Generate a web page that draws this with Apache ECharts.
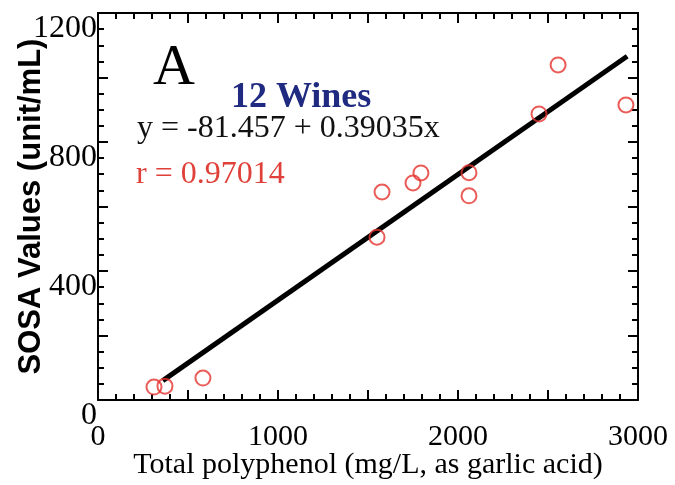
<!DOCTYPE html>
<html>
<head>
<meta charset="utf-8">
<script src="https://cdn.jsdelivr.net/npm/echarts@6/dist/echarts.min.js"></script>
<style>
  html, body { margin: 0; padding: 0; background: #fff; }
  #chart { width: 675px; height: 485px; }
</style>
</head>
<body>
<div id="chart"></div>
<script>
// wine samples
var polyphenol = [311, 372, 583, 1550, 1578, 1750, 1794, 2061, 2061, 2450, 2556, 2933];
var sosa = [40, 43, 68, 505, 645, 673, 704, 705, 633, 887, 1039, 915];
// fitted line ends (y = -81.457 + 0.39035x)
var fitX = [360, 2940];
var fitY = [60, 1066];

var xTicks = [0, 1000, 2000, 3000];
var yTicks = [0, 400, 800, 1200];

var serif = '"Liberation Serif", "Times New Roman", serif';

var points = [];
for (var i = 0; i < polyphenol.length; i++) {
  points.push([polyphenol[i], sosa[i]]);
}
var fitLine = [[fitX[0], fitY[0]], [fitX[1], fitY[1]]];

var frameLine = { show: true, onZero: false, lineStyle: { color: '#000', width: 2 } };

function xAxisDef(pos, showLabels) {
  return {
    type: 'value', position: pos, min: 0, max: 3000, interval: 500,
    axisLine: frameLine,
    axisTick: { show: true, inside: true, length: 10, lineStyle: { color: '#000', width: 2 } },
    minorTick: { show: true, splitNumber: 5, length: 6, lineStyle: { color: '#000', width: 2 } },
    splitLine: { show: false },
    axisLabel: {
      show: showLabels, margin: 22, color: '#000', fontFamily: serif, fontSize: 30,
      formatter: function (v) { return xTicks.indexOf(v) >= 0 ? String(v) : ''; }
    }
  };
}

function yAxisDef(pos, showLabels) {
  return {
    type: 'value', position: pos, min: 0, max: 1200, interval: 200,
    axisLine: frameLine,
    axisTick: { show: true, inside: true, length: 10, lineStyle: { color: '#000', width: 2 } },
    minorTick: { show: true, splitNumber: 4, length: 6, lineStyle: { color: '#000', width: 2 } },
    splitLine: { show: false },
    axisLabel: {
      show: showLabels, margin: 1, color: '#000', fontFamily: serif, fontSize: 32,
      verticalAlign: 'top',
      formatter: function (v) { return yTicks.indexOf(v) >= 0 ? String(v) : ''; }
    }
  };
}

var xBottom = xAxisDef('bottom', true);
xBottom.name = 'Total polyphenol (mg/L, as garlic acid)';
xBottom.nameLocation = 'middle';
xBottom.nameGap = 50;
xBottom.nameMoveOverlap = false;
xBottom.nameTextStyle = { color: '#000', fontFamily: serif, fontSize: 30 };

var yLeft = yAxisDef('left', true);
yLeft.name = 'SOSA Values (unit/mL)';
yLeft.nameLocation = 'middle';
yLeft.nameGap = 51;
yLeft.nameMoveOverlap = false;
yLeft.nameTextStyle = { color: '#000', fontFamily: '"Liberation Sans", Arial, sans-serif', fontWeight: 'bold', fontSize: 31 };

var chart = echarts.init(document.getElementById('chart'));
chart.setOption({
  animation: false,
  backgroundColor: '#fff',
  grid: { left: 98, right: 37, top: 13, bottom: 85, outerBoundsMode: 'none' },
  xAxis: [xBottom, xAxisDef('top', false)],
  yAxis: [yLeft, yAxisDef('right', false)],
  graphic: [
    { type: 'text', left: 153, top: 40, style: { text: 'A', font: '58px ' + serif, fill: '#000' } },
    { type: 'text', left: 231, top: 80, style: { text: '12 Wines', font: 'bold 36px ' + serif, fill: '#1f2a80' } },
    { type: 'text', left: 137, top: 113, style: { text: 'y = -81.457 + 0.39035x', font: '32px ' + serif, fill: '#111' } },
    { type: 'text', left: 136, top: 159, style: { text: 'r = 0.97014', font: '32px ' + serif, fill: '#e0403a' } }
  ],
  series: [
    {
      type: 'line', xAxisIndex: 0, yAxisIndex: 0, data: fitLine,
      symbol: 'none', lineStyle: { color: '#000', width: 5 }, z: 2
    },
    {
      type: 'scatter', xAxisIndex: 0, yAxisIndex: 0, data: points,
      symbol: 'circle', symbolSize: 15,
      itemStyle: { color: 'rgba(255,255,255,0)', borderColor: '#e5332d', borderWidth: 2 }, z: 3
    }
  ]
});
</script>
</body>
</html>
